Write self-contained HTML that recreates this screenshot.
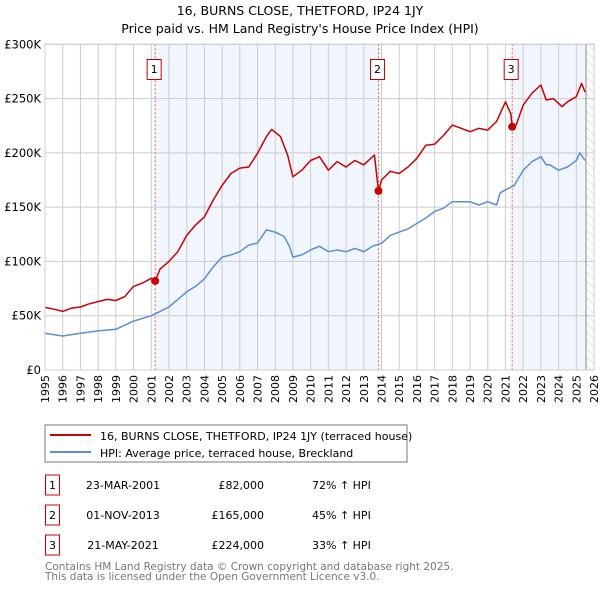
<!DOCTYPE html>
<html><head><meta charset="utf-8"><style>
body{margin:0;background:#fff;font-family:"DejaVu Sans","Liberation Sans",sans-serif;}
svg text{font-family:"DejaVu Sans","Liberation Sans",sans-serif;}
</style></head><body>
<svg id="chart" width="600" height="590" viewBox="0 0 600 590" xmlns="http://www.w3.org/2000/svg">
<defs><pattern id="hatch" width="6" height="6" patternUnits="userSpaceOnUse" patternTransform="rotate(-45)"><line x1="0" y1="0" x2="0" y2="6" stroke="#ccc" stroke-width="1"/></pattern></defs>
<text x="300" y="15" text-anchor="middle" font-size="12.5" fill="#000">16, BURNS CLOSE, THETFORD, IP24 1JY</text>
<text x="300" y="33" text-anchor="middle" font-size="12.5" fill="#000">Price paid vs. HM Land Registry's House Price Index (HPI)</text>
<g id="plot"></g>
<rect x="45" y="425" width="362" height="37" fill="#fff" stroke="#777"/>
<line x1="50" y1="435" x2="91" y2="435" stroke="#cc0000" stroke-width="2"/>
<text x="100" y="440" font-size="11">16, BURNS CLOSE, THETFORD, IP24 1JY (terraced house)</text>
<line x1="50" y1="452" x2="91" y2="452" stroke="#5b8ed6" stroke-width="2"/>
<text x="100" y="457" font-size="11">HPI: Average price, terraced house, Breckland</text>
<g id="table" font-size="11"></g>
<text x="45" y="570" font-size="10.5" fill="#777">Contains HM Land Registry data © Crown copyright and database right 2025.</text>
<text x="45" y="580" font-size="10.5" fill="#777">This data is licensed under the Open Government Licence v3.0.</text>
</svg>
<script>
const hpiYears=[1995,1996,1997,1998,1999,2000,2001,2001.5,2002,2002.5,2003,2003.5,2004,2004.5,2005,2005.5,2006,2006.5,2007,2007.5,2008,2008.5,2008.8,2009,2009.5,2010,2010.5,2011,2011.5,2012,2012.5,2013,2013.5,2014,2014.5,2015,2015.5,2016,2016.5,2017,2017.5,2018,2018.5,2019,2019.5,2020,2020.5,2020.7,2021,2021.5,2022,2022.5,2023,2023.3,2023.5,2024,2024.5,2025,2025.2,2025.5];
const hpiValues=[33.8,31.3,33.8,36,37.5,45,50,54,58,65,72,77,84,95,104,106,109,115,117,129,127,123,114,104,106,110.5,114,109,110.5,109,112,109,114,116.7,124,127,130,135,140,146,149,155,155,155,152,155,152,163,166,170,184,192,196.5,189,189,184,187,193,200,193];
const redYears=[1995,1995.5,1996,1996.5,1997,1997.5,1998,1998.5,1999,1999.5,2000,2000.5,2001,2001.22,2001.5,2002,2002.5,2003,2003.5,2004,2004.5,2005,2005.5,2006,2006.5,2007,2007.5,2007.8,2008.3,2008.7,2009,2009.5,2010,2010.5,2011,2011.5,2012,2012.5,2013,2013.6,2013.83,2014,2014.5,2015,2015.5,2016,2016.5,2017,2017.5,2018,2018.5,2019,2019.5,2020,2020.5,2021,2021.3,2021.38,2021.6,2022,2022.5,2023,2023.3,2023.7,2024.2,2024.5,2025,2025.3,2025.5];
const redValues=[57.7,56,54,57,58,61,63,65,64,67.5,77,80,84.5,82,93,100,109,124,133.5,141,156.5,170,181,186,187,199.5,215,221.6,215,198,178,184,193,196.5,184,192,187,193,189,198,165,175,183,181,187,195,207,208,216,225.6,222.6,219.5,222.6,221,229,247,236,224,225.6,244,255,262.5,248.7,250,242.5,247,251.7,264,256];
const saleYears=[2001.22,2013.83,2021.38];
const salePrices=[82,165,224];
const saleLabels=["1","2","3"];
const saleDates=["23-MAR-2001","01-NOV-2013","21-MAY-2021"];
const salePriceText=["£82,000","£165,000","£224,000"];
const saleHpiText=["72% ↑ HPI","45% ↑ HPI","33% ↑ HPI"];
const yTicks=[0,50,100,150,200,250,300];
const xTicks=[1995,1996,1997,1998,1999,2000,2001,2002,2003,2004,2005,2006,2007,2008,2009,2010,2011,2012,2013,2014,2015,2016,2017,2018,2019,2020,2021,2022,2023,2024,2025,2026];
const dataEnd=2025.55;

const NS="http://www.w3.org/2000/svg";
const X0=45,X1=594,Y0=370,Y1=44.3;
const xs=y=>X0+(y-1995)/(2026-1995)*(X1-X0);
const ys=v=>Y0-v/300*(Y0-Y1);
const plot=document.getElementById('plot');
function mk(tag,attrs,parent){const e=document.createElementNS(NS,tag);for(const k in attrs)e.setAttribute(k,attrs[k]);(parent||plot).appendChild(e);return e;}

let e;
e=mk('rect',{x:X0,y:Y1,width:X1-X0,height:Y0-Y1,fill:'#fff'});


e=mk('rect',{x:xs(saleYears[0]),y:Y1,width:xs(saleYears[1])-xs(saleYears[0]),height:Y0-Y1,fill:'#eef3fd',opacity:0.8});


e=mk('rect',{x:xs(saleYears[2]),y:Y1,width:xs(dataEnd)-xs(saleYears[2]),height:Y0-Y1,fill:'#eef3fd',opacity:0.8});


e=mk('rect',{x:xs(dataEnd),y:Y1,width:X1-xs(dataEnd),height:Y0-Y1,fill:'url(#hatch)'});


xTicks.forEach(t=>{
 e=mk('line',{x1:xs(t),x2:xs(t),y1:Y1,y2:Y0,stroke:'#ccc','stroke-width':1});
 
 
 e=mk('text',{x:0,y:0,'font-size':11,'text-anchor':'end',transform:`translate(${xs(t)+4},${Y0+5}) rotate(-90)`});
 e.textContent=t;
 
 
});
yTicks.forEach(t=>{
 e=mk('line',{x1:X0,x2:X1,y1:ys(t),y2:ys(t),stroke:'#ccc','stroke-width':1});
 
 
 e=mk('text',{x:X0-4,y:ys(t)+4,'font-size':11.5,'text-anchor':'end'});
 e.textContent='£'+(t===0?'0':t+'K');
 
 
});
e=mk('line',{x1:xs(dataEnd),x2:xs(dataEnd),y1:Y1,y2:Y0,stroke:'#888','stroke-width':1});


saleYears.forEach((s,i)=>{
 e=mk('line',{x1:xs(s),x2:xs(s),y1:Y1,y2:Y0,stroke:'#e06060','stroke-width':1,'stroke-dasharray':'2,2'});
 
 
});
const pts=(xa,va)=>xa.map((y,i)=>xs(y).toFixed(1)+','+ys(va[i]).toFixed(1)).join(' ');
e=mk('polyline',{points:pts(hpiYears,hpiValues),fill:'none',stroke:'#5b8ed6','stroke-width':1.5,'stroke-linejoin':'round'});


e=mk('polyline',{points:pts(redYears,redValues),fill:'none',stroke:'#cc0000','stroke-width':1.5,'stroke-linejoin':'round'});


saleYears.forEach((s,i)=>{
 e=mk('circle',{cx:xs(s),cy:ys(salePrices[i]),r:4,fill:'#cc0000'});
 
 
 e=mk('rect',{x:xs(s)-8,y:59.5,width:14,height:20,fill:'#fff',stroke:'#cc0000'});
 
 
 e=mk('text',{x:xs(s)-1,y:73,'font-size':11,'text-anchor':'middle'});
 e.textContent=saleLabels[i];
 
 
});
e=mk('rect',{x:X0,y:Y1,width:X1-X0,height:Y0-Y1,fill:'none',stroke:'#ccc'});



const tbl=document.getElementById('table');
saleLabels.forEach((l,i)=>{
 const cy=485+i*30;
 e=mk('rect',{x:45.5,y:cy-10,width:14,height:20,fill:'#fff',stroke:'#cc0000'},tbl);
 
 
 e=mk('text',{x:52.5,y:cy+4,'text-anchor':'middle'},tbl);
 e.textContent=l;
 
 
 e=mk('text',{x:123,y:cy+4,'text-anchor':'middle'},tbl);
 e.textContent=saleDates[i];
 
 
 e=mk('text',{x:264,y:cy+4,'text-anchor':'end'},tbl);
 e.textContent=salePriceText[i];
 
 
 e=mk('text',{x:312,y:cy+4},tbl);
 e.textContent=saleHpiText[i];
 
 
});
</script>
</body></html>
